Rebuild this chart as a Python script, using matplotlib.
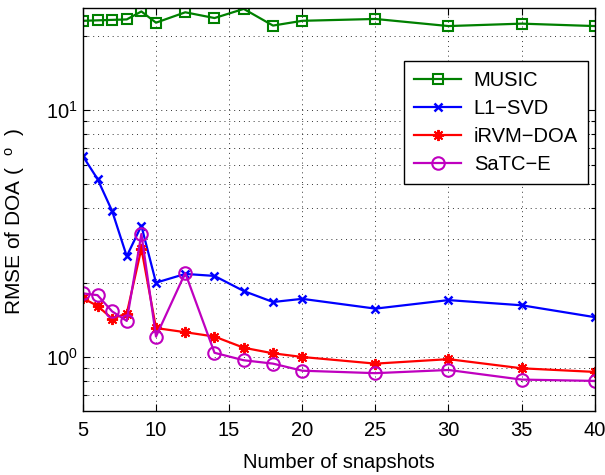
import numpy as np
import matplotlib.pyplot as plt
import matplotlib.ticker as ticker

plt.rcParams['font.family'] = ['Liberation Sans', 'DejaVu Sans']
plt.rcParams['mathtext.fontset'] = 'custom'
plt.rcParams['mathtext.rm'] = 'Liberation Sans'

# ── dados ─────────────────────────────────────────────────────────────────────
snapshots = [5, 6, 7, 8, 9, 10, 12, 14, 16, 18, 20, 25, 30, 35, 40]

music = [23.0, 23.1, 23.2, 23.3, 25.1, 22.6, 24.9, 23.6, 25.7, 22.0,
         23.0, 23.4, 21.9, 22.4, 21.9]
l1svd = [6.51, 5.26, 3.90, 2.56, 3.40, 2.00, 2.17, 2.13, 1.85, 1.67,
         1.72, 1.57, 1.70, 1.62, 1.45]
irvm  = [1.73, 1.61, 1.43, 1.50, 2.75, 1.31, 1.26, 1.21, 1.09, 1.035,
         1.00, 0.94, 0.98, 0.90, 0.87]
satce = [1.81, 1.78, 1.53, 1.40, 3.15, 1.21, 2.19, 1.04, 0.97, 0.94,
         0.88, 0.86, 0.886, 0.81, 0.80]

# ── gráfico ───────────────────────────────────────────────────────────────────
fig = plt.figure(figsize=(6.05, 4.75), dpi=100)
ax = fig.add_axes([0.137, 0.135, 0.846, 0.848])

lw = 1.6
ax.semilogy(snapshots, music, color=(0, 0.5, 0), marker='s', mfc='none',
            ms=7, mew=1.5, lw=lw, label='MUSIC')
ax.semilogy(snapshots, l1svd, color='b', marker='x', ms=6, mew=1.8,
            lw=lw, label='L1\u2212SVD')
ax.semilogy(snapshots, irvm, color='r', marker=(8, 2, 0), ms=8, mew=1.4,
            lw=lw, label='iRVM\u2212DOA')
ax.semilogy(snapshots, satce, color='m', marker='o', mfc='none', ms=9,
            mew=1.5, lw=lw, label='SaTC\u2212E')

ax.set_xlim(5, 40)
ax.set_ylim(0.605, 25.9)
ax.xaxis.set_major_locator(ticker.MultipleLocator(5))
ax.yaxis.set_major_locator(ticker.LogLocator(base=10))
ax.yaxis.set_minor_locator(ticker.LogLocator(base=10, subs=np.arange(2, 10)))
ax.yaxis.set_minor_formatter(ticker.NullFormatter())

ax.tick_params(which='both', direction='in', top=True, right=True,
               labelsize=14.5, width=0.8)
ax.tick_params(which='major', length=5)
ax.tick_params(which='minor', length=3)
ax.tick_params(axis='x', pad=7)

ax.grid(True, which='major', color='k', linestyle=(0, (1, 4)), lw=0.7, alpha=0.8)
ax.grid(True, which='minor', axis='y', color='k', linestyle=(0, (1, 4)),
        lw=0.7, alpha=0.8)

for s in ax.spines.values():
    s.set_linewidth(1.0)

ax.set_xlabel('Number of snapshots', fontsize=14.5, labelpad=10)
ax.set_ylabel(r'RMSE of DOA (  $\mathregular{^{o}}$  )', fontsize=15)
ax.yaxis.set_label_coords(-0.109, 0.47)

leg = ax.legend(loc='upper right', bbox_to_anchor=(0.987, 0.869), fontsize=14.5,
                fancybox=False, framealpha=1, edgecolor='k',
                handlelength=2.3, handletextpad=0.65, labelspacing=0.45,
                borderpad=0.5, borderaxespad=0)
leg.get_frame().set_linewidth(1.0)

fig.savefig('out.png', dpi=100)
